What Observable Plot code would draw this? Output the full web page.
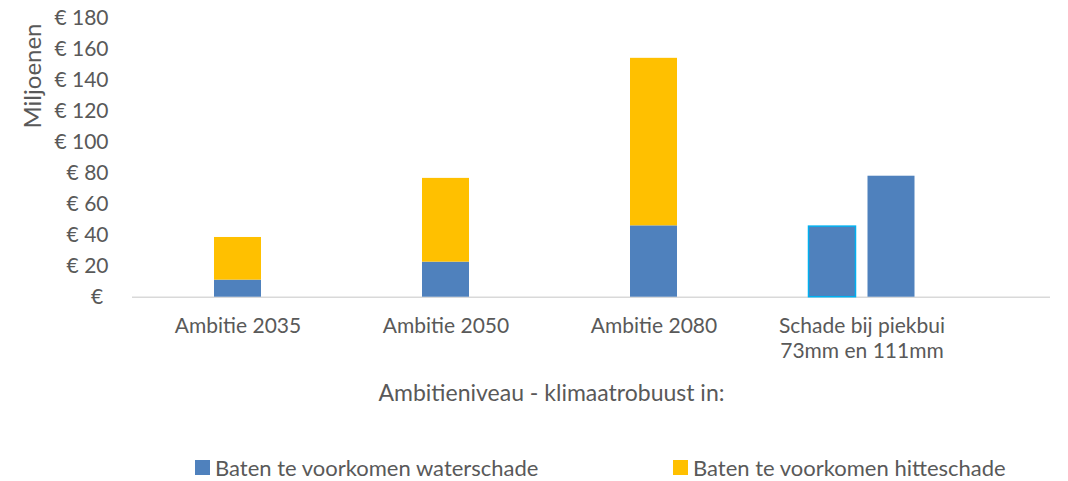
<!DOCTYPE html>
<html>
<head>
<meta charset="utf-8">
<script src="https://cdn.jsdelivr.net/npm/d3@7"></script>
<script src="https://cdn.jsdelivr.net/npm/@observablehq/plot@0.6"></script>
<style>
  html, body { margin: 0; padding: 0; background: #fff; overflow: hidden; }
  #chart { position: relative; width: 1068px; height: 481px; font-family: Lato, sans-serif; color: #595959; }
  #ylabel { position: absolute; left: 32px; top: 76px; transform: translate(-50%, -50%) rotate(-90deg); font-size: 24px; white-space: nowrap; line-height: 1; }
  #legend { position: absolute; left: 0; top: 452px; width: 1068px; height: 30px; font-size: 22px; }
  .item { position: absolute; top: 0; display: flex; align-items: center; height: 30px; white-space: nowrap; }
  .sw { width: 15px; height: 15px; margin-right: 5px; }
</style>
</head>
<body>
<div id="chart"></div>
<script>
// ---- data ----
const categories = ["Ambitie 2035", "Ambitie 2050", "Ambitie 2080", "Schade bij piekbui 73mm en 111mm"];
const ambitionCats = ["Ambitie 2035", "Ambitie 2050", "Ambitie 2080"];
const waterschade = [11, 22.6, 46];       // Baten te voorkomen waterschade
const hitteschade = [27.5, 54, 108];      // Baten te voorkomen hitteschade
const piekbuiLabels = ["73mm", "111mm"];
const piekbuiSchade = [45.5, 78];
const yTicks = [0, 20, 40, 60, 80, 100, 120, 140, 160, 180];
const seriesNames = ["Baten te voorkomen waterschade", "Baten te voorkomen hitteschade"];
const seriesColors = ["#4F81BD", "#FFC000"];
const yTitle = "Miljoenen";
const xTitle = "Ambitieniveau - klimaatrobuust in:";

const stacked = [];
ambitionCats.forEach((c, i) => {
  stacked.push({cat: c, series: seriesNames[0], value: waterschade[i]});
  stacked.push({cat: c, series: seriesNames[1], value: hitteschade[i]});
});
const piekbui = piekbuiLabels.map((l, i) => ({cat: categories[3], label: l, value: piekbuiSchade[i]}));

const catLabel = d => d === categories[3] ? "Schade bij piekbui\n73mm en 111mm" : d;

const W = 1068, H = 445;
const plot = Plot.plot({
  width: W,
  height: H,
  marginLeft: 132,
  marginRight: 18,
  marginTop: 17.5,
  marginBottom: H - 296.7,
  style: {fontFamily: "Lato, sans-serif", fontSize: "21px", color: "#595959", background: "#fff"},
  x: {domain: categories, range: [132, 966.7], paddingInner: 0.776, paddingOuter: 0.388},
  y: {domain: [0, 180]},
  color: {domain: seriesNames, range: seriesColors},
  marks: [
    Plot.ruleY([0], {stroke: "#D9D9D9", strokeWidth: 1.5}),
    Plot.barY(stacked, Plot.stackY({x: "cat", y: "value", fill: "series", order: seriesNames})),
    Plot.barY(piekbui.slice(0, 1), {x: "cat", y: "value", fill: seriesColors[0], stroke: "#00B0F0", strokeWidth: 1.5, dx: -29.5}),
    Plot.barY(piekbui.slice(1), {x: "cat", y: "value", fill: seriesColors[0], dx: 29.5}),
    Plot.axisY({ticks: yTicks, tickSize: 0, tickPadding: 24, label: null,
      tickFormat: d => d === 0 ? "€\u00a0" : "€ " + d, fontSize: 21}),
    Plot.axisX({tickSize: 0, tickPadding: 18, label: null, tickFormat: catLabel, lineHeight: 1.2, fontSize: 21}),
    Plot.text([xTitle], {frameAnchor: "bottom", dx: -40, dy: 104, fontSize: 23, fill: "#595959"})
  ]
});
const chart = document.getElementById("chart");
chart.appendChild(plot);

const yl = document.createElement("div");
yl.id = "ylabel";
yl.textContent = yTitle;
chart.appendChild(yl);

const legend = document.createElement("div");
legend.id = "legend";
const legendLeft = [195, 673];
seriesNames.forEach((n, i) => {
  const it = document.createElement("div");
  it.className = "item";
  it.style.left = legendLeft[i] + "px";
  const sw = document.createElement("div");
  sw.className = "sw";
  sw.style.background = seriesColors[i];
  const t = document.createElement("span");
  t.textContent = n;
  it.appendChild(sw); it.appendChild(t);
  legend.appendChild(it);
});
chart.appendChild(legend);
</script>
</body>
</html>
